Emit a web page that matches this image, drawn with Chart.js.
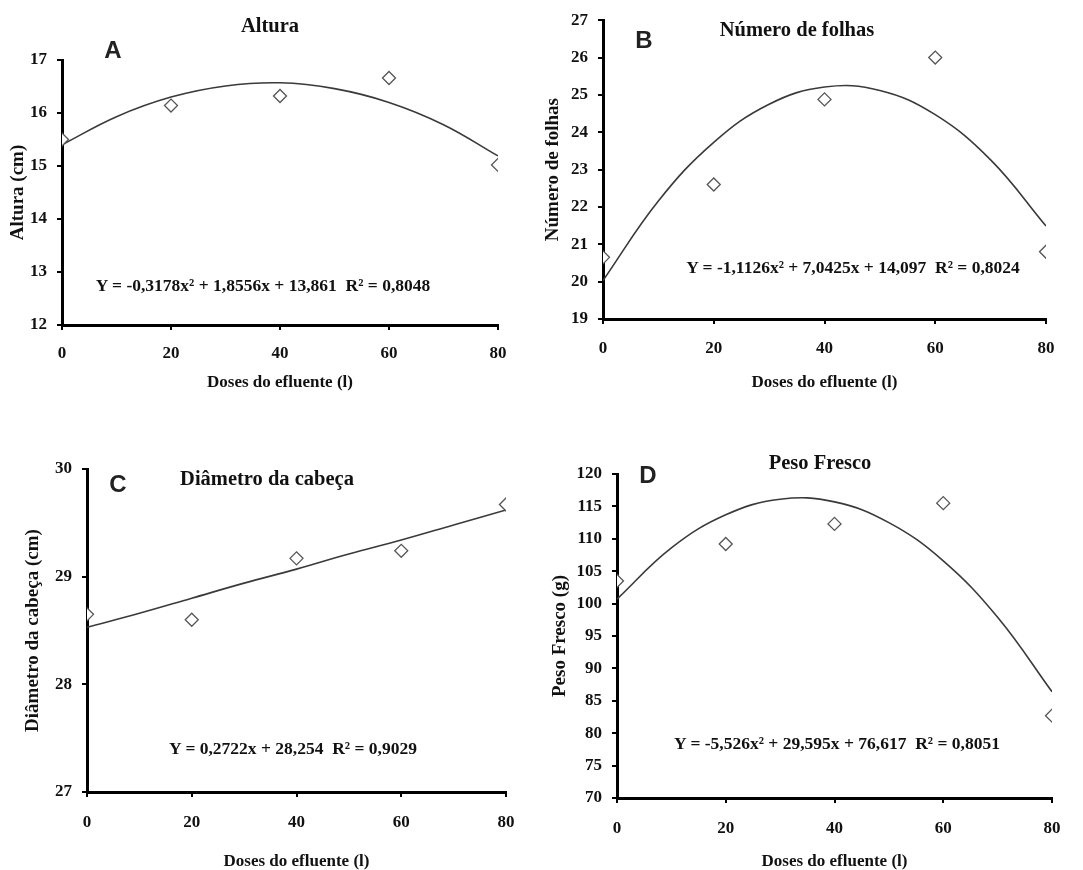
<!DOCTYPE html>
<html lang="pt">
<head>
    <meta charset="UTF-8">
    <title>Doses do efluente</title>
    <script src="https://cdn.jsdelivr.net/npm/chart.js"></script>
    <style>
        body {
            margin: 0;
            background: #fff;
            width: 1083px;
            height: 870px;
            overflow: hidden;
            position: relative;
            font-family: "Liberation Serif", "Times New Roman", serif;
        }
        .panel {
            position: absolute;
        }
        .label {
            position: absolute;
            transform: translate(-50%, -50%);
            white-space: nowrap;
            color: #111;
        }
        .title { font-size: 20.5px; font-weight: bold; }
        .letter { font-family: "Liberation Sans", Arial, sans-serif; font-size: 24px; font-weight: bold; color: #222; }
        .eq { font-size: 17.5px; font-weight: bold; }
    </style>
</head>
<body>
    <div class="panel" id="boxA" style="left:0;top:0;width:540px;height:420px"><canvas id="chartA"></canvas></div>
    <div class="panel" id="boxB" style="left:540px;top:0;width:543px;height:420px"><canvas id="chartB"></canvas></div>
    <div class="panel" id="boxC" style="left:0;top:430px;width:540px;height:460px"><canvas id="chartC"></canvas></div>
    <div class="panel" id="boxD" style="left:540px;top:430px;width:543px;height:460px"><canvas id="chartD"></canvas></div>

    <div class="label title" style="left:270px;top:25px">Altura</div>
    <div class="label letter" style="left:113px;top:50px">A</div>
    <div class="label eq" style="left:263px;top:285px">Y = -0,3178x² + 1,8556x + 13,861&nbsp; R² = 0,8048</div>

    <div class="label title" style="left:797px;top:29px">Número de folhas</div>
    <div class="label letter" style="left:644px;top:40px">B</div>
    <div class="label eq" style="left:853px;top:267px">Y = -1,1126x² + 7,0425x + 14,097&nbsp; R² = 0,8024</div>

    <div class="label title" style="left:267px;top:478px">Diâmetro da cabeça</div>
    <div class="label letter" style="left:118px;top:484px">C</div>
    <div class="label eq" style="left:293px;top:748px">Y = 0,2722x + 28,254&nbsp; R² = 0,9029</div>

    <div class="label title" style="left:820px;top:462px">Peso Fresco</div>
    <div class="label letter" style="left:648px;top:475px">D</div>
    <div class="label eq" style="left:837px;top:743px">Y = -5,526x² + 29,595x + 76,617&nbsp; R² = 0,8051</div>

    <script>
        // doses (x axis) for the measured points and for the fitted curves
        const doses = [0, 20, 40, 60, 80];
        const trendDoses = [0, 10, 20, 30, 40, 50, 60, 70, 80];

        const alturaPts = [15.5, 16.14, 16.32, 16.66, 15.02];
        const folhasPts = [20.65, 22.6, 24.88, 26.0, 20.8];
        const diametroPts = [28.65, 28.6, 29.17, 29.24, 29.67];
        const pesoPts = [103.5, 109.2, 112.3, 115.5, 82.7];

        // fitted curves (values at trendDoses)
        const alturaFit = [15.40, 15.93, 16.30, 16.51, 16.57, 16.46, 16.20, 15.78, 15.19];
        const folhasFit = [20.03, 22.16, 23.73, 24.75, 25.21, 25.12, 24.47, 23.26, 21.49];
        const diametroFit = [28.53, 28.66, 28.80, 28.94, 29.07, 29.21, 29.34, 29.48, 29.62];
        const pesoFit = [100.7, 108.6, 113.7, 116.1, 115.7, 112.5, 106.6, 97.9, 86.4];

        const xTitle = 'Doses do efluente (l)';
        const serif = 'Liberation Serif';

        function toXY(xs, ys) {
            return xs.map((x, i) => ({ x: x, y: ys[i] }));
        }

        // area = plot area inside the box: left, top, right, bottom
        function makeChart(id, boxW, boxH, area, yMin, yMax, yStep, yTitle, pts, fit, pads) {
            const ctx = document.getElementById(id).getContext('2d');
            new Chart(ctx, {
                type: 'scatter',
                data: {
                    datasets: [{
                        data: toXY(doses, pts),
                        pointStyle: 'rectRot',
                        pointRadius: 6.5,
                        pointBorderWidth: 1.3,
                        borderColor: '#555',
                        backgroundColor: '#fff',
                        showLine: false
                    }, {
                        data: toXY(trendDoses, fit),
                        showLine: true,
                        tension: 0.4,
                        pointRadius: 0,
                        borderColor: '#3a3a3a',
                        borderWidth: 1.6
                    }]
                },
                options: {
                    responsive: true,
                    maintainAspectRatio: false,
                    animation: false,
                    layout: {
                        padding: { left: 0, top: area[1], right: boxW - area[2], bottom: 0 }
                    },
                    plugins: {
                        legend: { display: false },
                        tooltip: { enabled: false }
                    },
                    scales: {
                        x: {
                            type: 'linear',
                            min: 0,
                            max: 80,
                            afterFit: (s) => { s.height = boxH - area[3]; },
                            border: { display: true, color: '#000', width: 3 },
                            grid: { drawOnChartArea: false, drawTicks: true, tickLength: 5, color: '#000', lineWidth: 2 },
                            ticks: {
                                stepSize: 20,
                                padding: pads.xTick,
                                color: '#111',
                                font: { family: serif, size: 17, weight: 'bold' }
                            },
                            title: {
                                display: true,
                                text: xTitle,
                                color: '#111',
                                padding: { top: 0, bottom: pads.xTitle },
                                font: { family: serif, size: 17, weight: 'bold' }
                            }
                        },
                        y: {
                            min: yMin,
                            max: yMax,
                            afterFit: (s) => { s.width = area[0]; },
                            border: { display: true, color: '#000', width: 3 },
                            grid: { drawOnChartArea: false, drawTicks: true, tickLength: 5, color: '#000', lineWidth: 2 },
                            ticks: {
                                stepSize: yStep,
                                padding: 10,
                                color: '#111',
                                font: { family: serif, size: 17, weight: 'bold' }
                            },
                            title: {
                                display: true,
                                text: yTitle,
                                color: '#111',
                                padding: { top: pads.yTitle, bottom: 0 },
                                font: { family: serif, size: 19, weight: 'bold' }
                            }
                        }
                    }
                }
            });
        }

        makeChart('chartA', 540, 420, [62, 60, 498, 325], 12, 17, 1, 'Altura (cm)',
            alturaPts, alturaFit, { xTick: 13, xTitle: 27, yTitle: 7 });
        makeChart('chartB', 543, 420, [63, 19, 506, 319], 19, 27, 1, 'Número de folhas',
            folhasPts, folhasFit, { xTick: 14, xTitle: 27, yTitle: 2 });
        makeChart('chartC', 540, 460, [87, 39, 506, 362], 27, 30, 1, 'Diâmetro da cabeça (cm)',
            diametroPts, diametroFit, { xTick: 15, xTitle: 18, yTitle: 22 });
        makeChart('chartD', 543, 460, [77, 44, 512, 368], 70, 120, 5, 'Peso Fresco (g)',
            pesoPts, pesoFit, { xTick: 15, xTitle: 18, yTitle: 9 });
    </script>
</body>
</html>
